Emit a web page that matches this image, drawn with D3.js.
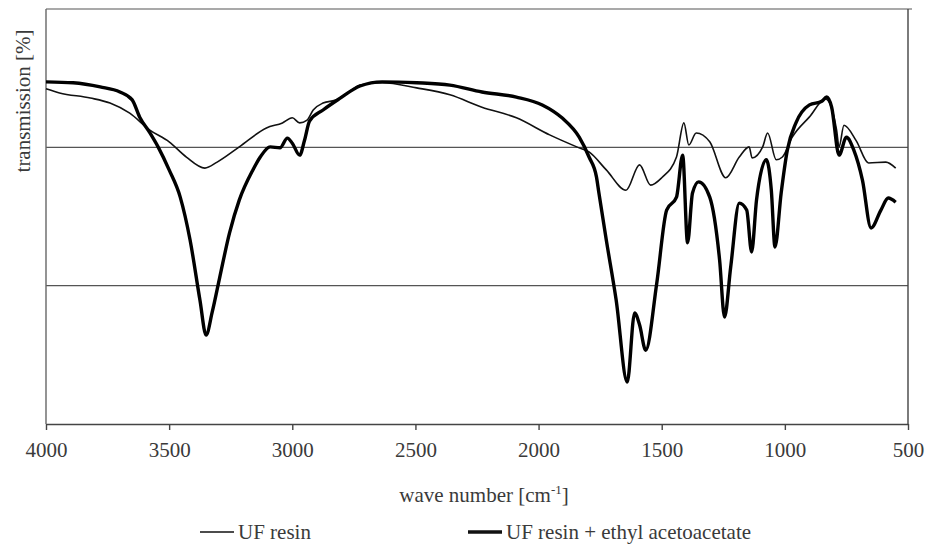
<!DOCTYPE html>
<html>
<head>
<meta charset="utf-8">
<title>FTIR spectra</title>
<script type="text/javascript" src="https://cdn.jsdelivr.net/npm/d3@7"></script>
<style type="text/css">
  body { margin: 0; background: #fff; }
  .lbl { font-family: "Liberation Serif", "Times New Roman", serif; font-size: 21px; fill: #3a3a3a; }
</style>
</head>
<body>
<div id="chart"></div>
<script type="text/javascript">
// wave number [cm-1], transmission (arbitrary %, no scale printed)
var ufResin = [
  [4000,72.7],[3945,71.8],[3820,70.7],[3740,69.6],[3660,67.4],[3580,63.8],[3500,61.2],[3430,57.9],
  [3355,55.5],[3305,56.8],[3215,60.1],[3105,64.2],[3040,65.3],[3000,66.4],[2970,65.3],[2940,65.9],
  [2915,68.1],[2875,69.6],[2820,70.3],[2765,72.2],[2725,73.5],[2635,74.0],[2495,72.9],[2360,71.4],
  [2230,68.7],[2090,66.4],[1955,62.7],[1845,60.1],[1795,59.0],[1725,55.1],[1645,50.7],[1590,56.2],
  [1545,51.8],[1500,53.4],[1440,57.9],[1410,65.3],[1390,60.5],[1360,63.1],[1305,61.2],[1240,53.4],
  [1185,57.9],[1145,60.1],[1133,57.7],[1090,60.1],[1070,63.1],[1035,57.3],[1010,57.9],[970,62.2],
  [900,66.6],[835,70.5],[790,63.8],[780,60.1],[760,64.8],[710,61.4],[660,56.6],[590,56.8],[550,55.5]
];
var ufResinEaa = [
  [4000,74.2],[3890,74.0],[3780,73.1],[3700,72.0],[3650,70.3],[3620,66.6],[3580,63.3],[3545,60.1],
  [3500,55.1],[3455,49.2],[3415,39.9],[3375,26.9],[3350,19.3],[3325,24.3],[3295,31.7],[3255,41.4],
  [3215,48.6],[3160,55.1],[3130,57.9],[3090,60.1],[3050,59.9],[3020,62.0],[3000,60.9],[2970,58.3],
  [2950,61.6],[2930,65.7],[2875,68.1],[2810,70.5],[2725,73.3],[2635,74.2],[2495,74.0],[2360,73.5],
  [2230,72.0],[2090,70.9],[1985,69.2],[1905,66.4],[1835,62.2],[1795,57.9],[1765,53.6],[1755,50.1],
  [1725,39.9],[1685,26.9],[1640,9.1],[1610,24.1],[1590,21.5],[1565,16.0],[1520,30.6],[1480,46.4],
  [1440,49.2],[1415,58.3],[1395,39.3],[1375,50.1],[1350,52.5],[1305,49.2],[1265,35.6],[1245,23.2],
  [1220,34.0],[1185,47.9],[1155,46.4],[1135,37.3],[1115,48.6],[1075,57.3],[1055,50.7],[1040,38.4],
  [1015,50.1],[990,59.4],[955,65.3],[900,69.2],[850,70.0],[830,70.9],[810,68.7],[780,58.3],
  [750,62.2],[720,59.4],[685,52.9],[650,42.5],[610,46.4],[580,49.0],[550,48.1]
];
var xTicks = [4000, 3500, 3000, 2500, 2000, 1500, 1000, 500];
var gridValues = [30, 60];
var seriesNames = ["UF resin", "UF resin + ethyl acetoacetate"];

var W = 926, H = 546;
var m = {top: 9, right: 18, bottom: 122, left: 46};
var iw = W - m.left - m.right, ih = H - m.top - m.bottom;

var svg = d3.select("#chart").append("svg").attr("width", W).attr("height", H);
var g = svg.append("g").attr("transform", "translate(" + m.left + "," + m.top + ")");

var x = d3.scaleLinear().domain([4000, 500]).range([0, iw]);
var y = d3.scaleLinear().domain([0, 90]).range([ih, 0]);

// gridlines
g.selectAll(".grid").data(gridValues).enter().append("line")
  .attr("x1", 0).attr("x2", iw)
  .attr("y1", function(d) { return y(d); }).attr("y2", function(d) { return y(d); })
  .attr("stroke", "#555").attr("stroke-width", 1.2);

// frame: top and right
g.append("line").attr("x1", 0).attr("x2", iw + 4).attr("y1", 0).attr("y2", 0)
  .attr("stroke", "#555").attr("stroke-width", 1.2);
g.append("line").attr("x1", iw).attr("x2", iw).attr("y1", 0).attr("y2", ih)
  .attr("stroke", "#444").attr("stroke-width", 1.4);
g.append("line").attr("x1", 0).attr("x2", 0).attr("y1", 0).attr("y2", ih)
  .attr("stroke", "#666").attr("stroke-width", 1.4);

// x axis
var xAxis = g.append("g").attr("transform", "translate(0," + ih + ")")
  .call(d3.axisBottom(x).tickValues(xTicks).tickSize(6).tickSizeOuter(0).tickPadding(12)
    .tickFormat(d3.format("d")));
xAxis.select(".domain").attr("stroke", "#444").attr("stroke-width", 1.4);
xAxis.selectAll(".tick line").attr("stroke", "#444").attr("stroke-width", 1.4);
xAxis.selectAll(".tick text").attr("class", "lbl").attr("fill", "#3a3a3a");

// spectra
var line = d3.line()
  .x(function(d) { return x(d[0]); })
  .y(function(d) { return y(d[1]); })
  .curve(d3.curveMonotoneX);

g.append("path").datum(ufResin).attr("d", line)
  .attr("fill", "none").attr("stroke", "#111").attr("stroke-width", 1.6).attr("stroke-linejoin", "round");
g.append("path").datum(ufResinEaa).attr("d", line)
  .attr("fill", "none").attr("stroke", "#000").attr("stroke-width", 3.4).attr("stroke-linejoin", "round");

// axis titles
var xt = svg.append("text").attr("class", "lbl").attr("x", 484).attr("y", 502).attr("text-anchor", "middle");
xt.append("tspan").text("wave number [cm");
xt.append("tspan").attr("dy", -8).attr("font-size", "13px").text("-1");
xt.append("tspan").attr("dy", 8).text("]");

svg.append("text").attr("class", "lbl")
  .attr("transform", "translate(30,101) rotate(-90)")
  .attr("text-anchor", "middle").text("transmission [%]");

// legend
var legend = [
  {name: seriesNames[0], x0: 200, w: 1.6},
  {name: seriesNames[1], x0: 468, w: 3.4}
];
var lg = svg.selectAll(".leg").data(legend).enter().append("g")
  .attr("transform", function(d) { return "translate(" + d.x0 + ",532)"; });
lg.append("line").attr("x1", 0).attr("x2", 34).attr("y1", 0).attr("y2", 0)
  .attr("stroke", "#111").attr("stroke-width", function(d) { return d.w; });
lg.append("text").attr("class", "lbl").attr("x", 38).attr("y", 7).text(function(d) { return d.name; });
</script>
</body>
</html>
